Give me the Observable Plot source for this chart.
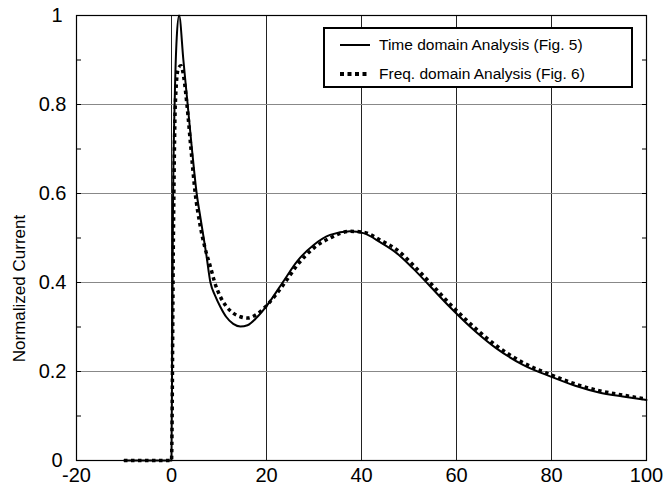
<!DOCTYPE html>
<html>
<head>
<meta charset="utf-8">
<script src="https://cdn.jsdelivr.net/npm/d3@7"></script>
<script src="https://cdn.jsdelivr.net/npm/@observablehq/plot@0.6"></script>
<style>
  html, body { margin: 0; padding: 0; background: #fff; }
  #wrap { position: relative; width: 669px; height: 491px; font-family: "Liberation Sans", Arial, sans-serif; }
  #legend { position: absolute; left: 323px; top: 27px; width: 306px; height: 57px; border: 2px solid #000; background: #fff; }
  .row { position: absolute; left: 0; height: 20px; display: flex; align-items: center; font-size: 15.5px; color: #000; white-space: nowrap; }
  .row svg { margin-left: 14px; margin-right: 8px; }
</style>
</head>
<body>
<div id="wrap"></div>
<script>
// Series: Time domain Analysis (Fig. 5) — solid
const timeX = [-10, 0, 0.3, 0.7, 1.1, 1.6, 2.5, 3.4, 4.3, 5.3, 6.1, 7.3, 8.2, 9.2, 10.3, 11.5, 13, 14.5, 16, 18, 20, 23.4, 26.4, 30, 33.4, 37.6, 40.4, 44, 47.4, 51, 54.4, 58.6, 64, 68.4, 74, 80, 85, 90, 95, 100];
const timeY = [0, 0, 0.55, 0.82, 0.95, 1.0, 0.9, 0.8, 0.7, 0.6, 0.545, 0.465, 0.40, 0.37, 0.345, 0.323, 0.307, 0.301, 0.304, 0.322, 0.347, 0.40, 0.447, 0.485, 0.507, 0.515, 0.511, 0.49, 0.466, 0.43, 0.392, 0.345, 0.29, 0.252, 0.215, 0.188, 0.168, 0.153, 0.144, 0.136];
// Series: Freq. domain Analysis (Fig. 6) — dotted
const freqX = [-10, 0, 0.4, 0.8, 1.4, 2.0, 2.6, 3.25, 4.1, 5.0, 6.0, 7.0, 8.2, 9.1, 10.2, 11.5, 13, 14.5, 16, 18, 20, 23.9, 26.4, 30, 33.4, 37.6, 40.4, 44, 47.4, 51, 54.4, 58.6, 64, 68.4, 74, 80, 85, 90, 95, 100];
const freqY = [0, 0, 0.5, 0.8, 0.88, 0.887, 0.86, 0.8, 0.7, 0.6, 0.53, 0.48, 0.435, 0.40, 0.37, 0.347, 0.331, 0.323, 0.32, 0.329, 0.348, 0.40, 0.438, 0.478, 0.50, 0.515, 0.513, 0.495, 0.474, 0.438, 0.40, 0.352, 0.297, 0.258, 0.22, 0.192, 0.172, 0.157, 0.147, 0.138];

const xTicks = [-20, 0, 20, 40, 60, 80, 100];
const yTicksInner = [0.2, 0.4, 0.6, 0.8];
const yTicksEnds = [0, 1];
const yMinorTicks = [0.1, 0.2, 0.3, 0.4, 0.5, 0.6, 0.7, 0.8, 0.9];
const xGrid = [0, 20, 40, 60, 80];
const yGrid = [0.2, 0.4, 0.6, 0.8];
const seriesNames = ["Time domain Analysis (Fig. 5)", "Freq. domain Analysis (Fig. 6)"];
const yLabel = "Normalized Current";

const timeData = timeX.map((x, i) => ({x, y: timeY[i]}));
const freqData = freqX.map((x, i) => ({x, y: freqY[i]}));

const chart = Plot.plot({
  width: 669,
  height: 491,
  marginLeft: 76,
  marginRight: 23,
  marginTop: 15,
  marginBottom: 31,
  style: {fontFamily: "'Liberation Sans', Arial, sans-serif", background: "#fff", color: "#000"},
  x: {domain: [-20, 100]},
  y: {domain: [0, 1]},
  marks: [
    Plot.ruleX(xGrid, {stroke: "#222", strokeWidth: 1}),
    Plot.ruleY(yGrid, {stroke: "#888", strokeWidth: 1}),
    Plot.axisX({ticks: xTicks, tickSize: 0, tickPadding: 7, fontSize: 20, tickFormat: d => String(d), label: null}),
    Plot.axisY({ticks: yTicksInner, tickSize: 0, tickPadding: 10, fontSize: 20, tickFormat: d => String(d), label: null}),
    Plot.axisY({ticks: yTicksEnds, tickSize: 0, tickPadding: 14, fontSize: 20, tickFormat: d => String(d), label: null}),
    Plot.axisY({anchor: "left", ticks: yMinorTicks, tickSize: -5, tickFormat: () => "", label: null}),
    Plot.axisY({anchor: "right", ticks: yMinorTicks, tickSize: -5, tickFormat: () => "", label: null}),
    Plot.text([yLabel], {frameAnchor: "left", textAnchor: "middle", dx: -56.5, dy: 50.5, rotate: -90, fontSize: 17, text: d => d}),
    Plot.line(timeData, {x: "x", y: "y", stroke: "#000", strokeWidth: 2, curve: "monotone-x"}),
    Plot.line(freqData, {x: "x", y: "y", stroke: "#000", strokeWidth: 3.5, strokeDasharray: "3.5,3.5", strokeLinecap: "butt", curve: "monotone-x"}),
    Plot.frame({stroke: "#000", strokeWidth: 1.2})
  ]
});

const wrap = document.getElementById("wrap");
wrap.appendChild(chart);

const legend = document.createElement("div");
legend.id = "legend";
const rows = [
  {name: seriesNames[0], dash: null, sw: 2, top: 6},
  {name: seriesNames[1], dash: "4,3.5", sw: 4, top: 35}
];
rows.forEach(r => {
  const row = document.createElement("div");
  row.className = "row";
  row.style.top = r.top + "px";
  const ns = "http://www.w3.org/2000/svg";
  const s = document.createElementNS(ns, "svg");
  s.setAttribute("width", 32);
  s.setAttribute("height", 8);
  const l = document.createElementNS(ns, "line");
  l.setAttribute("x1", 1); l.setAttribute("x2", 31);
  l.setAttribute("y1", 4); l.setAttribute("y2", 4);
  l.setAttribute("stroke", "#000");
  l.setAttribute("stroke-width", r.sw);
  if (r.dash) l.setAttribute("stroke-dasharray", r.dash);
  s.appendChild(l);
  row.appendChild(s);
  const t = document.createElement("span");
  t.textContent = r.name;
  row.appendChild(t);
  legend.appendChild(row);
});
wrap.appendChild(legend);
</script>
</body>
</html>
